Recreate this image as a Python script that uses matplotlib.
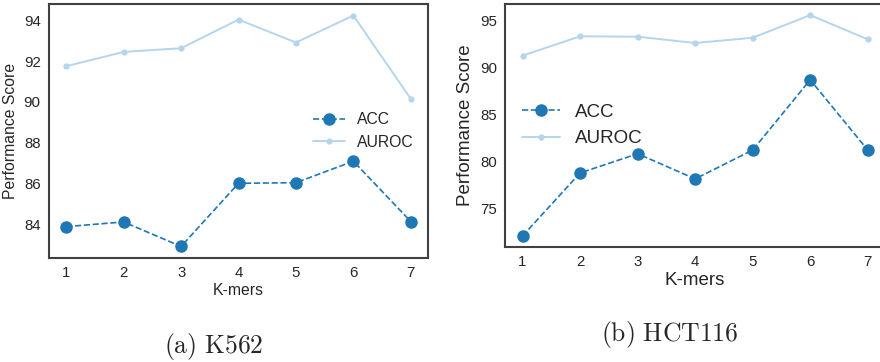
import matplotlib
matplotlib.use("Agg")
import matplotlib.pyplot as plt

plt.style.use("seaborn-v0_8-white")
plt.rcParams['font.family'] = ['Liberation Sans', 'DejaVu Sans']
plt.rcParams['mathtext.fontset'] = 'cm'

# k-mer sizes
kmers = [1, 2, 3, 4, 5, 6, 7]

# K562 scores
k562_acc = [83.9, 84.13, 82.93, 86.02, 86.05, 87.1, 84.15]
k562_auroc = [91.75, 92.45, 92.63, 94.03, 92.91, 94.23, 90.15]

# HCT116 scores
hct_acc = [72.07, 78.76, 80.8, 78.13, 81.19, 88.65, 81.19]
hct_auroc = [91.22, 93.27, 93.23, 92.56, 93.12, 95.52, 92.95]

acc_color = '#1f78b4'
auroc_color = '#b4d5ec'

fig = plt.figure(figsize=(8.8, 3.62), dpi=100)
ax1 = fig.add_axes([0.0557, 0.2873, 0.4307, 0.7017])
ax2 = fig.add_axes([0.5742, 0.3177, 0.4315, 0.671])


def draw(ax, acc, auroc, label_size, legend_loc):
    ax.plot(kmers, acc, linestyle='--', marker='o', color=acc_color,
            markersize=8, linewidth=1.2, label='ACC')
    ax.plot(kmers, auroc, linestyle='-', marker='o', color=auroc_color,
            markersize=3.5, linewidth=1.4, label='AUROC')
    ax.set_xticks(kmers)
    ax.tick_params(labelsize=10.8, colors='.15', length=0, pad=6)
    ax.set_xlabel('K-mers', fontsize=label_size, color='.15', labelpad=2)
    ax.set_ylabel('Performance Score', fontsize=label_size, color='.15', labelpad=4)
    for s in ax.spines.values():
        s.set_color('.25')
        s.set_linewidth(1.5)
    ax.legend(loc=legend_loc, frameon=False, fontsize=label_size)


draw(ax1, k562_acc, k562_auroc, 11.3, 'center right')
draw(ax2, hct_acc, hct_auroc, 13.5, 'center left')

fig.text(213.5 / 880, 1 - 346 / 362, r'$\mathrm{(a)\ K562}$', fontsize=18.5,
         ha='center', va='center')
fig.text(670 / 880, 1 - 334 / 362, r'$\mathrm{(b)\ HCT116}$', fontsize=18.5,
         ha='center', va='center')

fig.savefig('out.png', dpi=100)
